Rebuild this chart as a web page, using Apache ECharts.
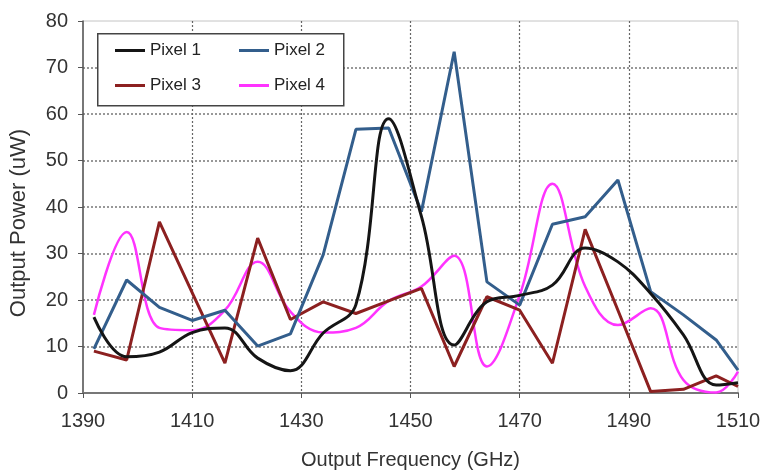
<!DOCTYPE html>
<html>
<head>
<meta charset="utf-8">
<script src="https://cdn.jsdelivr.net/npm/echarts@6/dist/echarts.min.js"></script>
<style>
  html, body { margin: 0; padding: 0; background: #fff; }
  #chart { width: 761px; height: 472px; }
</style>
</head>
<body>
<div id="chart"></div>
<script>
// frequency samples (GHz)
const freqs = [1392, 1398, 1404, 1410, 1416, 1422, 1428, 1434, 1440, 1446, 1452,
  1458, 1464, 1470, 1476, 1482, 1488, 1494, 1500, 1506, 1510]

// output power (uW) per pixel
const pixel1 = [16.3, 7.8, 8.8, 13, 14, 7.5, 4.8, 12.9, 19, 59, 38,
  10.3, 19.6, 21, 23.2, 31.2, 28.2, 21.4, 12.5, 1.7, 2.2]
const pixel2 = [9.5, 24.3, 18.4, 15.6, 17.8, 10.1, 12.7, 29.7, 56.7, 57, 39,
  73.4, 23.9, 18.9, 36.3, 37.9, 45.8, 21.8, 16.8, 11.4, 4.9]
const pixel3 = [9, 7.1, 36.8, 21.6, 6.4, 33.3, 15.8, 19.6, 17.1, 19.8, 22.5,
  5.7, 20.7, 17.8, 6.4, 35.2, 17.8, 0.3, 0.8, 3.7, 1.4]
const pixel4 = [16.8, 34.6, 14, 13.5, 17.8, 28.2, 17.5, 13, 14, 19.8, 22.9,
  29.5, 5.7, 21, 45, 22.9, 14.6, 18.2, 2.8, 0.1, 4.6]

const xTicks = [1390, 1410, 1430, 1450, 1470, 1490, 1510]
const yMax = 80

const pair = (ys) => freqs.map((f, i) => [f, ys[i]])

const font = 'Liberation Sans'

const chart = echarts.init(document.getElementById('chart'))

const legendCommon = {
  icon: 'rect',
  itemWidth: 30, itemHeight: 3, itemGap: 38,
  padding: 0,
  textStyle: { fontFamily: font, fontSize: 17, color: '#222' },
  z: 10,
}

const option = {
  animation: false,
  textStyle: { fontFamily: font },
  grid: {
    left: 83, right: 23, top: 21, bottom: 79,
    outerBoundsMode: 'none',
    containLabel: false,
    show: true,
    borderColor: '#c4c4c4',
    borderWidth: 1,
  },
  graphic: [
    {
      type: 'rect',
      left: 97, top: 33,
      shape: { width: 246, height: 72 },
      style: { fill: '#fff', stroke: '#444', lineWidth: 1.5 },
      z: 5,
    },
  ],
  legend: [
    Object.assign({ data: ['Pixel 1', 'Pixel 2'], left: 115, top: 42 }, legendCommon),
    Object.assign({ data: ['Pixel 3', 'Pixel 4'], left: 115, top: 77 }, legendCommon),
  ],
  xAxis: {
    type: 'value',
    min: xTicks[0],
    max: xTicks[xTicks.length - 1],
    interval: 20,
    name: 'Output Frequency (GHz)',
    nameLocation: 'middle',
    nameGap: 57,
    nameTextStyle: { fontFamily: font, fontSize: 20, color: '#333' },
    axisLine: { lineStyle: { color: '#777', width: 2 } },
    axisTick: { show: true, length: 5, lineStyle: { color: '#555' } },
    axisLabel: {
      fontFamily: font, fontSize: 20, color: '#333', margin: 18,
      formatter: (v) => String(v),
    },
    splitLine: {
      show: true, showMinLine: false, showMaxLine: false,
      lineStyle: { color: '#666', type: [2, 2], width: 1.2 },
    },
  },
  yAxis: {
    type: 'value',
    min: 0,
    max: yMax,
    interval: 10,
    name: 'Output Power (uW)',
    nameLocation: 'middle',
    nameGap: 53,
    nameTextStyle: {
      fontFamily: font, fontSize: 22, color: '#333',
      padding: [0, 32, 0, 0],
    },
    axisLine: { lineStyle: { color: '#555', width: 1.5 } },
    axisTick: { show: true, length: 5, lineStyle: { color: '#555' } },
    axisLabel: { fontFamily: font, fontSize: 20, color: '#333', margin: 15 },
    splitLine: {
      show: true, showMinLine: false, showMaxLine: false,
      lineStyle: { color: '#777', type: [2, 2], width: 1.5 },
    },
  },
  series: [
    {
      name: 'Pixel 1', type: 'line', data: pair(pixel1),
      smooth: 0.4, symbol: 'none', color: '#151515',
      lineStyle: { width: 3 }, z: 4,
    },
    {
      name: 'Pixel 2', type: 'line', data: pair(pixel2),
      symbol: 'none', color: '#335e8c',
      lineStyle: { width: 3 }, z: 3,
    },
    {
      name: 'Pixel 3', type: 'line', data: pair(pixel3),
      symbol: 'none', color: '#8c2020',
      lineStyle: { width: 3 }, z: 2,
    },
    {
      name: 'Pixel 4', type: 'line', data: pair(pixel4),
      smooth: 0.4, symbol: 'none', color: '#ff33ff',
      lineStyle: { width: 2.5 }, z: 1,
    },
  ],
}

chart.setOption(option)
</script>
</body>
</html>
